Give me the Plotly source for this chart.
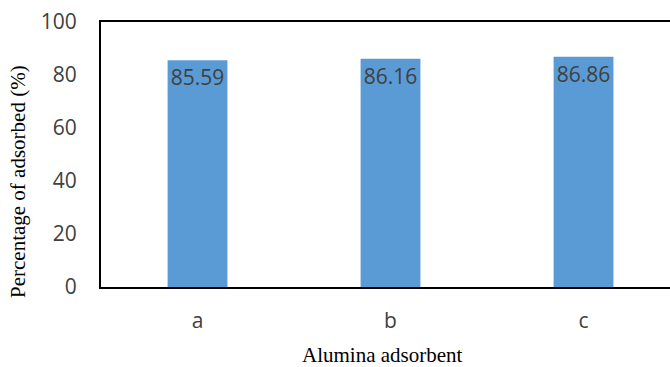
import plotly.graph_objects as go

# Adsorption results per alumina sample
samples = ["a", "b", "c"]
adsorbed_pct = [85.59, 86.16, 86.86]
y_ticks = [0, 20, 40, 60, 80, 100]

bar_color = "#5B9BD5"
text_color = "#404040"
sans = "Open Sans"
serif = "Liberation Serif"

fig = go.Figure(
    go.Bar(
        x=samples,
        y=adsorbed_pct,
        marker=dict(color=bar_color, line=dict(width=0)),
        text=[f"{v:.2f}" for v in adsorbed_pct],
        textposition="inside",
        insidetextanchor="end",
        textangle=0,
        textfont=dict(family=sans, size=21, color=text_color),
        hoverinfo="skip",
    )
)

fig.update_layout(
    width=670,
    height=367,
    margin=dict(l=101, r=0, t=22, b=80),
    paper_bgcolor="white",
    plot_bgcolor="white",
    bargap=0.69,
    showlegend=False,
    uniformtext=dict(mode=False),
    annotations=[
        dict(
            text="Alumina adsorbent",
            xref="paper", yref="paper",
            x=(382 - 101) / 569, y=(287 - 355) / 265,
            xanchor="center", yanchor="middle",
            showarrow=False,
            font=dict(family=serif, size=21, color="black"),
        ),
        dict(
            text="Percentage of adsorbed (%)",
            xref="paper", yref="paper",
            x=(18 - 101) / 569, y=(287 - 182) / 265,
            xanchor="center", yanchor="middle",
            textangle=-90,
            showarrow=False,
            font=dict(family=serif, size=21, color="black"),
        ),
    ],
)

fig.update_xaxes(
    range=[-0.5, 2.448],
    showline=True,
    linecolor="black",
    linewidth=2,
    mirror=True,
    ticks="",
    ticklabelstandoff=14,
    tickfont=dict(family=sans, size=21, color=text_color),
    showgrid=False,
    zeroline=False,
)

fig.update_yaxes(
    range=[0, 100],
    tickvals=y_ticks,
    showline=True,
    linecolor="black",
    linewidth=2,
    mirror=False,
    ticks="",
    ticklabelstandoff=18,
    tickfont=dict(family=sans, size=21, color=text_color),
    showgrid=False,
    zeroline=False,
)

fig.write_html("out.html")
